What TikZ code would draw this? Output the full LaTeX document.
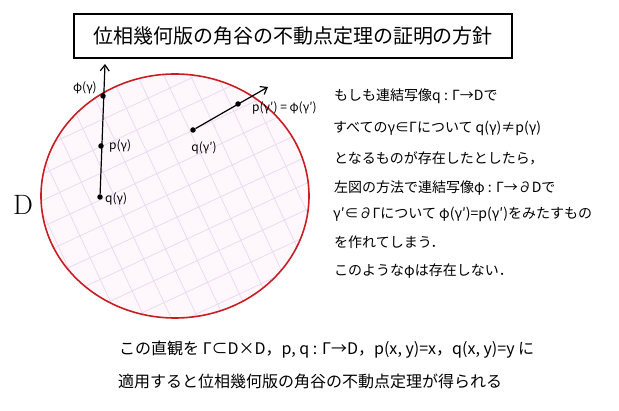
\documentclass[tikz,border=0pt]{standalone}
\usepackage{fontspec}
\newfontfamily\jp{Noto Sans CJK JP}
\usetikzlibrary{arrows.meta}
\definecolor{diskred}{RGB}{200,30,35}
\definecolor{gridlav}{RGB}{236,218,242}
\definecolor{diskfill}{RGB}{254,248,253}
\tikzset{
  pt/.style={circle,fill=black,inner sep=0pt,minimum size=5.5pt},
  lbl/.style={font=\jp\fontsize{12}{14}\selectfont,inner sep=1pt},
  body/.style={anchor=west,font=\jp\fontsize{14}{16}\selectfont,inner sep=0pt},
  foot/.style={anchor=west,font=\jp\fontsize{16}{18}\selectfont,inner sep=0pt},
  ray/.style={line width=1.2pt,-{Straight Barb[length=6pt,width=9pt]}}
}
\begin{document}
\begin{tikzpicture}[x=1pt,y=-1pt]
\useasboundingbox (0,0) rectangle (619,411);
% title
\node[draw,line width=1.1pt,minimum width=438pt,minimum height=44pt,inner sep=0pt,
      font=\jp\fontsize{20}{22}\selectfont] (title) at (293,36) {位相幾何版の角谷の不動点定理の証明の方針};
% disk
\fill[diskfill] (175,196) ellipse [x radius=134, y radius=122];
\begin{scope}
  \clip (175,196) ellipse [x radius=134, y radius=122];
  \draw[gridlav,line width=0.8pt,rotate around={25:(175,196)}] (-40,-40) grid[step=24pt] (400,430);
\end{scope}
\draw[diskred,line width=1.6pt] (175,196) ellipse [x radius=134, y radius=122];
\node[font=\fontsize{28}{30}\selectfont] (D) at (23,205) {D};
% first ray
\node[pt] (qg) at (100,197) {};
\node[pt] (pg) at (101,146) {};
\node[pt] (phig) at (103,96) {};
\coordinate (top) at (105,64);
\draw[ray] (qg) -- (top);
\node[lbl,anchor=east] (phil) at (98,88) {φ(γ)};
\node[lbl,anchor=west] (pl) at (108,146) {p(γ)};
\node[lbl,anchor=west] (ql) at (104,199) {q(γ)};
% second ray
\node[pt] (q2) at (193,130) {};
\node[pt] (p2) at (238,104) {};
\coordinate (tip2) at (268,87);
\draw[ray] (q2) -- (tip2);
\node[lbl] (q2l) at (204,148) {q(γ′)};
\node[lbl,anchor=west] (p2l) at (251,108) {p(γ′) = φ(γ′)};
% right text
\node[body] (t1) at (334,96) {もしも連結写像q : Γ→Dで};
\node[body] (t2) at (333,128) {すべてのγ∈Γについて q(γ)≠p(γ)};
\node[body] (t3) at (334,158) {となるものが存在したとしたら，};
\node[body] (t4) at (334,188) {左図の方法で連結写像φ : Γ→∂Dで};
\node[body] (t5) at (333,214) {γ′∈∂Γについて φ(γ′)=p(γ′)をみたすもの};
\node[body] (t6) at (334,242) {を作れてしまう．};
\node[body] (t7) at (334,271) {このようなφは存在しない．};
% footer
\node[foot] (b1) at (119,350) {この直観を Γ⊂D×D，p, q : Γ→D，p(x, y)=x，q(x, y)=y に};
\node[foot] (b2) at (118,381) {適用すると位相幾何版の角谷の不動点定理が得られる};
\end{tikzpicture}
\end{document}
